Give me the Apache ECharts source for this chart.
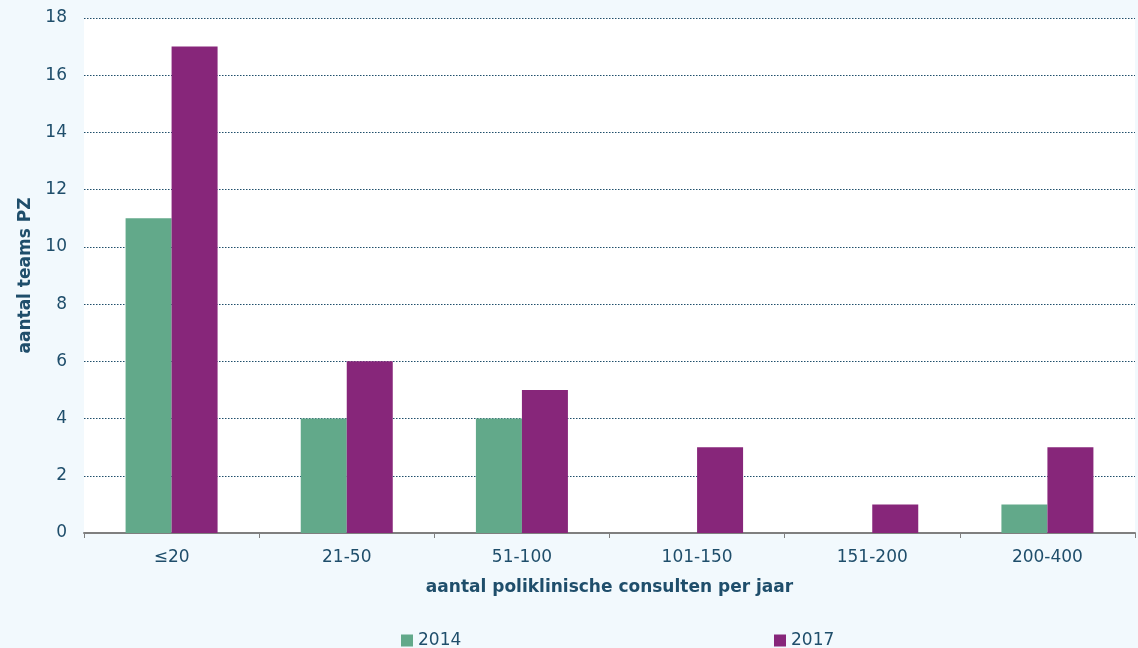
<!DOCTYPE html>
<html><head><meta charset="utf-8">
<script src="https://cdn.jsdelivr.net/npm/echarts@6/dist/echarts.min.js"></script>
<style>html,body{margin:0;padding:0;background:#F2F9FD;}#c{width:1138px;height:648px;}</style>
</head><body><div id="c"></div>
<script>
const categories = ['≤20','21-50','51-100','101-150','151-200','200-400'];
const values2014 = [11,4,4,0,0,1];
const values2017 = [17,6,5,3,1,3];
const yTicks = {min:0, max:18, interval:2};
const txt = '#1F4E6B';
const font = '"DejaVu Sans", sans-serif';
const chart = echarts.init(document.getElementById('c'));
chart.setOption({
  backgroundColor:'#F2F9FD',
  textStyle:{fontFamily:font},
  grid:{left:84,right:3,top:18,bottom:115,show:true,backgroundColor:'#ffffff',borderWidth:0},
  legend:[
    {data:['2014'],left:396,top:627,itemWidth:12,itemHeight:12,itemGap:4,icon:'rect',textStyle:{color:txt,fontSize:17,fontFamily:font}},
    {data:['2017'],left:769,top:627,itemWidth:12,itemHeight:12,itemGap:4,icon:'rect',textStyle:{color:txt,fontSize:17,fontFamily:font}}
  ],
  xAxis:{type:'category',data:categories,
    axisLine:{lineStyle:{color:'#7f7f7f',width:2}},
    axisTick:{show:true,length:5,lineStyle:{color:'#7f7f7f'}},
    axisLabel:{color:txt,fontSize:17,margin:16,fontFamily:font},
    name:'aantal poliklinische consulten per jaar',nameLocation:'middle',nameGap:46,
    nameTextStyle:{color:txt,fontSize:17,fontWeight:'bold',fontFamily:font}},
  yAxis:{type:'value',min:yTicks.min,max:yTicks.max,interval:yTicks.interval,
    axisLine:{show:false},axisTick:{show:false},
    axisLabel:{color:txt,fontSize:17,margin:17,fontFamily:font},
    splitLine:{lineStyle:{color:'#1F4E6B',type:[1.5,1.5],width:1.2}},
    name:'aantal teams PZ',nameLocation:'middle',nameGap:47,
    nameTextStyle:{color:txt,fontSize:17,fontWeight:'bold',fontFamily:font}},
  series:[
    {name:'2014',type:'bar',data:values2014,barWidth:46,barGap:'0%',itemStyle:{color:'#62A98A'}},
    {name:'2017',type:'bar',data:values2017,barWidth:46,barGap:'0%',itemStyle:{color:'#87267A'}}
  ]
});
</script></body></html>
